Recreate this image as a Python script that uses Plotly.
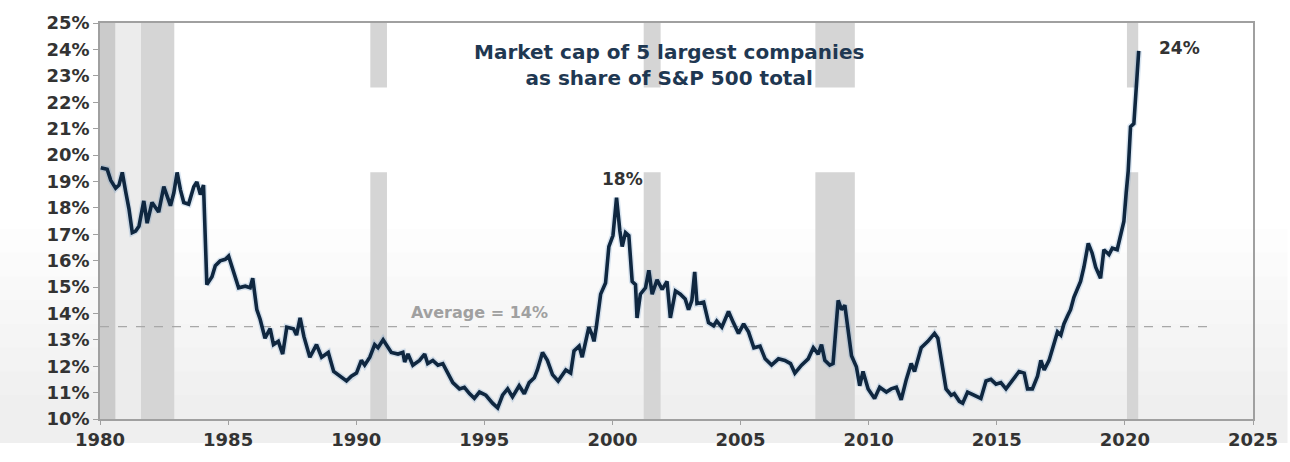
import plotly.graph_objects as go

# ---- data ----
years = [
    1980.03, 1980.28, 1980.42, 1980.61, 1980.74, 1980.87, 1981.00, 1981.13, 1981.26, 1981.39,
    1981.52, 1981.71, 1981.84, 1982.03, 1982.29, 1982.49, 1982.62, 1982.75, 1982.88, 1983.01,
    1983.14, 1983.27, 1983.46, 1983.66, 1983.78, 1983.92, 1984.04, 1984.17, 1984.37, 1984.50,
    1984.69, 1984.89, 1985.02, 1985.21, 1985.41, 1985.67, 1985.86, 1985.96, 1986.12, 1986.25,
    1986.44, 1986.64, 1986.77, 1986.96, 1987.13, 1987.29, 1987.55, 1987.67, 1987.81, 1987.96,
    1988.19, 1988.45, 1988.65, 1988.91, 1989.12, 1989.62, 1989.81, 1990.01, 1990.20, 1990.33,
    1990.53, 1990.72, 1990.85, 1991.05, 1991.17, 1991.37, 1991.63, 1991.82, 1991.89, 1992.02,
    1992.21, 1992.47, 1992.67, 1992.79, 1992.99, 1993.19, 1993.38, 1993.57, 1993.77, 1994.03,
    1994.22, 1994.42, 1994.61, 1994.81, 1995.06, 1995.32, 1995.52, 1995.71, 1995.91, 1996.10,
    1996.36, 1996.56, 1996.75, 1996.95, 1997.07, 1997.27, 1997.46, 1997.66, 1997.88, 1998.18,
    1998.37, 1998.50, 1998.70, 1998.82, 1998.95, 1999.08, 1999.21, 1999.28, 1999.37, 1999.54,
    1999.73, 1999.86, 2000.02, 2000.16, 2000.29, 2000.38, 2000.51, 2000.64, 2000.77, 2000.90,
    2000.96, 2001.09, 2001.29, 2001.42, 2001.55, 2001.74, 2001.94, 2002.13, 2002.26, 2002.46,
    2002.65, 2002.84, 2002.97, 2003.10, 2003.21, 2003.30, 2003.56, 2003.75, 2003.95, 2004.07,
    2004.27, 2004.53, 2004.72, 2004.92, 2005.12, 2005.31, 2005.52, 2005.76, 2005.96, 2006.21,
    2006.48, 2006.73, 2006.95, 2007.12, 2007.38, 2007.64, 2007.84, 2008.03, 2008.16, 2008.29,
    2008.48, 2008.61, 2008.81, 2008.94, 2009.07, 2009.20, 2009.33, 2009.52, 2009.65, 2009.78,
    2009.98, 2010.23, 2010.43, 2010.69, 2010.88, 2011.08, 2011.27, 2011.47, 2011.66, 2011.79,
    2012.05, 2012.31, 2012.57, 2012.70, 2012.83, 2013.02, 2013.22, 2013.34, 2013.54, 2013.67,
    2013.86, 2014.12, 2014.38, 2014.58, 2014.77, 2014.97, 2015.16, 2015.36, 2015.62, 2015.87,
    2016.07, 2016.20, 2016.39, 2016.59, 2016.72, 2016.85, 2017.04, 2017.24, 2017.37, 2017.50,
    2017.62, 2017.76, 2017.88, 2018.01, 2018.15, 2018.27, 2018.40, 2018.57, 2018.72, 2018.86,
    2019.05, 2019.18, 2019.38, 2019.51, 2019.70, 2019.83, 2019.96, 2020.05, 2020.13, 2020.22,
    2020.35, 2020.54,
]
share = [
    19.52, 19.46, 19.04, 18.74, 18.86, 19.34, 18.62, 17.96, 17.06, 17.12,
    17.30, 18.26, 17.42, 18.20, 17.84, 18.80, 18.44, 18.08, 18.56, 19.34,
    18.68, 18.20, 18.14, 18.80, 18.98, 18.50, 18.86, 15.09, 15.39, 15.81,
    15.99, 16.05, 16.17, 15.57, 14.97, 15.03, 14.97, 15.33, 14.14, 13.78,
    13.06, 13.42, 12.82, 12.94, 12.46, 13.48, 13.42, 13.18, 13.83, 13.12,
    12.34, 12.82, 12.34, 12.52, 11.80, 11.44, 11.62, 11.74, 12.22, 12.04,
    12.34, 12.82, 12.70, 13.00, 12.82, 12.52, 12.46, 12.52, 12.16, 12.46,
    12.04, 12.22, 12.46, 12.10, 12.22, 12.04, 12.10, 11.74, 11.38, 11.14,
    11.20, 10.96, 10.78, 11.02, 10.90, 10.60, 10.42, 10.90, 11.14, 10.84,
    11.26, 10.96, 11.38, 11.56, 11.86, 12.52, 12.22, 11.68, 11.44, 11.86,
    11.74, 12.58, 12.76, 12.34, 12.94, 13.48, 13.18, 12.94, 13.48, 14.73,
    15.15, 16.53, 16.95, 18.38, 17.12, 16.53, 17.06, 16.95, 15.21, 15.09,
    13.83, 14.73, 14.97, 15.63, 14.73, 15.27, 14.91, 15.21, 13.83, 14.85,
    14.73, 14.55, 14.14, 14.49, 15.57, 14.37, 14.43, 13.65, 13.53, 13.71,
    13.48, 14.07, 13.65, 13.24, 13.60, 13.30, 12.70, 12.76, 12.28, 12.04,
    12.28, 12.22, 12.10, 11.74, 12.04, 12.28, 12.70, 12.46, 12.82, 12.22,
    12.04, 12.10, 14.49, 14.14, 14.31, 13.30, 12.40, 11.98, 11.26, 11.80,
    11.14, 10.78, 11.20, 11.02, 11.14, 11.20, 10.73, 11.50, 12.10, 11.80,
    12.70, 12.94, 13.24, 13.06, 12.34, 11.14, 10.90, 10.96, 10.67, 10.60,
    11.02, 10.90, 10.78, 11.44, 11.50, 11.32, 11.38, 11.14, 11.50, 11.80,
    11.74, 11.14, 11.14, 11.62, 12.22, 11.86, 12.22, 12.82, 13.30, 13.18,
    13.60, 13.90, 14.14, 14.61, 14.91, 15.21, 15.75, 16.65, 16.29, 15.75,
    15.33, 16.41, 16.23, 16.47, 16.41, 17.00, 17.48, 18.56, 19.40, 21.07,
    21.19, 23.94,
]

recession_starts = [1980.0, 1981.6, 1990.55, 2001.22, 2007.92, 2020.08]
recession_ends = [1980.6, 1982.9, 1991.2, 2001.88, 2009.46, 2020.52]

average_level = 13.5
average_label = "Average = 14%"
average_end_year = 2023.4

x_ticks = [1980, 1985, 1990, 1995, 2000, 2005, 2010, 2015, 2020, 2025]
y_ticks = list(range(10, 26))

title_text = "Market cap of 5 largest companies<br>as share of S&P 500 total"
peak_2000_label = "18%"
peak_2020_label = "24%"

# ---- styles ----
FONT = "DejaVu Sans"
LINE_COLOR = "#0f2740"
TEXT_DARK = "#333333"
TITLE_COLOR = "#1f3852"

shapes = []

# soft grey wash near the bottom (photo glare of the original)
for k in range(1, 9):
    shapes.append(dict(type="rect", xref="paper", yref="paper",
                       x0=-0.09, x1=1.03, y0=-0.06, y1=0.06 * k,
                       fillcolor="#c4c4c4", opacity=0.03, line_width=0, layer="below"))

# faint stripe after the first recession
shapes.append(dict(type="rect", xref="x", yref="paper",
                   x0=recession_ends[0], x1=recession_starts[1], y0=0, y1=1,
                   fillcolor="#ececec", line_width=0, layer="below"))

# recession bars
for i, (s, e) in enumerate(zip(recession_starts, recession_ends)):
    shapes.append(dict(type="rect", xref="x", yref="paper", x0=s, x1=e, y0=0, y1=1,
                       fillcolor="#cbcbcb" if i == 0 else "#d5d5d5",
                       line_width=0, layer="below"))

# white band covering the middle of the chart (as in the reference)
shapes.append(dict(type="rect", xref="paper", yref="y",
                   x0=0.08, x1=1.03, y0=19.35, y1=22.56,
                   fillcolor="#ffffff", line_width=0, layer="below"))

# average line
shapes.append(dict(type="line", xref="x", yref="y",
                   x0=x_ticks[0], x1=average_end_year, y0=average_level, y1=average_level,
                   line=dict(color="#a8a8a8", width=1.2, dash="dash"), layer="below"))

fig = go.Figure()

# soft halo under the line
fig.add_trace(go.Scatter(x=years, y=share, mode="lines",
                         line=dict(color="#5b8fc4", width=6.5), opacity=0.22,
                         hoverinfo="skip", showlegend=False))
fig.add_trace(go.Scatter(x=years, y=share, mode="lines",
                         line=dict(color=LINE_COLOR, width=3.6),
                         showlegend=False))

annotations = [
    dict(text=title_text, x=2002.2, y=23.4, xref="x", yref="y", showarrow=False,
         font=dict(family=FONT, size=20, color=TITLE_COLOR, weight="bold"),
         xanchor="center", yanchor="middle", align="center"),
    dict(text=peak_2000_label, x=2000.38, y=19.1, xref="x", yref="y", showarrow=False,
         font=dict(family=FONT, size=17, color=TEXT_DARK, weight="bold"),
         xanchor="center", yanchor="middle"),
    dict(text=peak_2020_label, x=2022.15, y=24.05, xref="x", yref="y", showarrow=False,
         font=dict(family=FONT, size=17, color=TEXT_DARK, weight="bold"),
         xanchor="center", yanchor="middle"),
    dict(text=average_label, x=1994.8, y=14.05, xref="x", yref="y", showarrow=False,
         font=dict(family=FONT, size=16, color="#a0a0a0", weight="bold"),
         xanchor="center", yanchor="middle"),
]

fig.update_layout(
    width=1290, height=462,
    margin=dict(l=100, r=32, t=20, b=24, pad=0),
    paper_bgcolor="#ffffff", plot_bgcolor="#ffffff",
    shapes=shapes, annotations=annotations,
    showlegend=False,
)
fig.update_xaxes(
    range=[1980, 2025], tickmode="array", tickvals=x_ticks,
    ticktext=[str(t) for t in x_ticks],
    showgrid=False, zeroline=False,
    showline=True, linecolor="#a0a0a0", linewidth=1.5, mirror=True,
    ticks="outside", ticklen=4, tickcolor="#a0a0a0",
    tickfont=dict(family=FONT, size=18, color=TEXT_DARK, weight="bold"),
)
fig.update_yaxes(
    range=[10, 25], tickmode="array", tickvals=y_ticks,
    ticktext=[f"{t}%" for t in y_ticks],
    showgrid=False, zeroline=False,
    showline=True, linecolor="#a0a0a0", linewidth=1.5, mirror=True,
    ticks="outside", ticklen=5, tickcolor="#a0a0a0",
    tickfont=dict(family=FONT, size=18, color=TEXT_DARK, weight="bold"),
)

fig.write_html("out.html")
